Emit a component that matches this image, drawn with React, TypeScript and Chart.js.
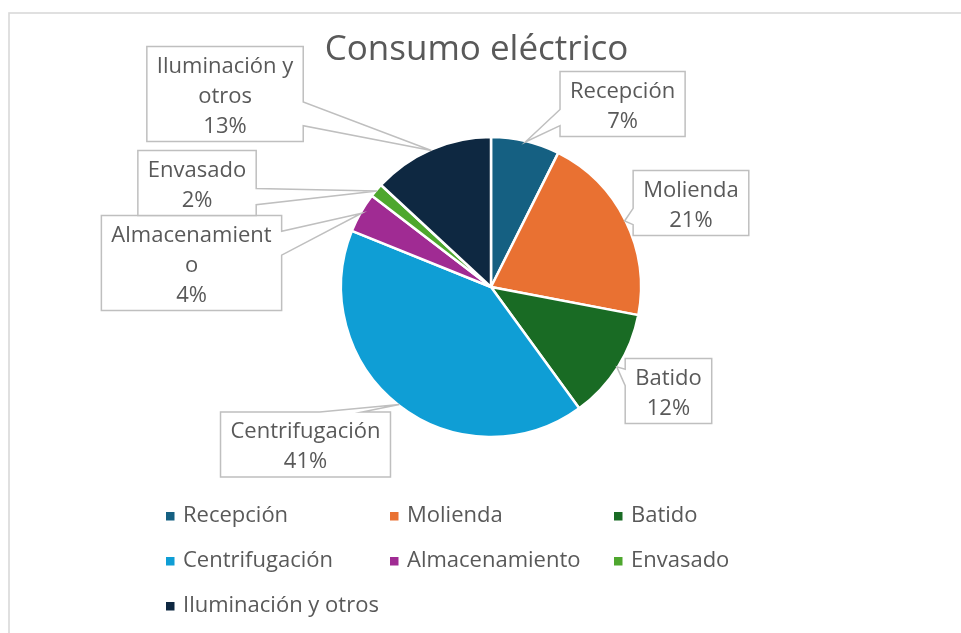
import React, { useEffect, useRef } from "react";
import { Chart, registerables } from "chart.js";

Chart.register(...registerables);

const chartTitle = "Consumo eléctrico";
const categories = [
  "Recepción",
  "Molienda",
  "Batido",
  "Centrifugación",
  "Almacenamiento",
  "Envasado",
  "Iluminación y otros",
];
const consumptionShare = [7.4, 20.6, 12.0, 41.1, 4.3, 1.5, 13.1];
const sliceColors = ["#156082", "#E97132", "#196B24", "#0F9ED5", "#A02B93", "#4EA72E", "#0E2841"];
const dataLabelLines = [
  ["Recepción"],
  ["Molienda"],
  ["Batido"],
  ["Centrifugación"],
  ["Almacenamient", "o"],
  ["Envasado"],
  ["Iluminación y", "otros"],
];
// label box centres relative to the pie centre, in pie radii
const labelOffsets = [
  [0.883, -1.228],
  [1.342, -0.564],
  [1.191, 0.698],
  [-1.245, 1.057],
  [-2.01, -0.161],
  [-1.973, -0.698],
  [-1.785, -1.295],
];

const FONT = '"Open Sans", "Noto Sans", sans-serif';
const TEXT = "#595959";
const LABEL_PX = 22;
const LINE_H = 30;
const R0 = 149;

const decorPlugin = {
  id: "decor",
  beforeDraw(chart: any) {
    const ctx = chart.ctx;
    ctx.save();
    ctx.fillStyle = "#ffffff";
    ctx.fillRect(0, 0, chart.width, chart.height);
    ctx.strokeStyle = "#D9D9D9";
    ctx.lineWidth = 1.6;
    ctx.strokeRect(9, 13, chart.width + 20, chart.height + 20);
    ctx.fillStyle = TEXT;
    ctx.font = `35px ${FONT}`;
    ctx.textAlign = "center";
    ctx.textBaseline = "alphabetic";
    ctx.fillText(chartTitle, 476.5, 60);
    ctx.restore();
  },
  afterDatasetsDraw(chart: any) {
    const ctx = chart.ctx;
    const meta = chart.getDatasetMeta(0);
    const values = chart.data.datasets[0].data as number[];
    const total = values.reduce((a, b) => a + b, 0);
    ctx.save();
    ctx.font = `${LABEL_PX}px ${FONT}`;
    meta.data.forEach((arc: any, i: number) => {
      const p = arc.getProps(["x", "y", "startAngle", "endAngle", "outerRadius"], true);
      const mid = (p.startAngle + p.endAngle) / 2;
      const R = R0;
      const tx = p.x + Math.cos(mid) * R;
      const ty = p.y + Math.sin(mid) * R;
      const lines = [...dataLabelLines[i], `${Math.round((values[i] / total) * 100)}%`];
      const tw = Math.max(...lines.map((l) => ctx.measureText(l).width));
      const w = tw + 20;
      const h = lines.length * LINE_H + 5;
      const cx = p.x + labelOffsets[i][0] * R;
      const cy = p.y + labelOffsets[i][1] * R;
      const l = cx - w / 2, r = cx + w / 2, t = cy - h / 2, b = cy + h / 2;
      const dx = tx - cx, dy = ty - cy;
      ctx.beginPath();
      if (Math.abs(dx) / w > Math.abs(dy) / h) {
        const yb1 = dy < 0 ? t + (h * 2) / 12 : t + (h * 7) / 12;
        const yb2 = dy < 0 ? t + (h * 5) / 12 : t + (h * 10) / 12;
        if (dx > 0) {
          ctx.moveTo(l, t); ctx.lineTo(r, t); ctx.lineTo(r, yb1); ctx.lineTo(tx, ty);
          ctx.lineTo(r, yb2); ctx.lineTo(r, b); ctx.lineTo(l, b);
        } else {
          ctx.moveTo(l, t); ctx.lineTo(r, t); ctx.lineTo(r, b); ctx.lineTo(l, b);
          ctx.lineTo(l, yb2); ctx.lineTo(tx, ty); ctx.lineTo(l, yb1);
        }
      } else {
        const xb1 = dx < 0 ? l + (w * 2) / 12 : l + (w * 7) / 12;
        const xb2 = dx < 0 ? l + (w * 5) / 12 : l + (w * 10) / 12;
        if (dy < 0) {
          ctx.moveTo(l, t); ctx.lineTo(xb1, t); ctx.lineTo(tx, ty); ctx.lineTo(xb2, t);
          ctx.lineTo(r, t); ctx.lineTo(r, b); ctx.lineTo(l, b);
        } else {
          ctx.moveTo(l, t); ctx.lineTo(r, t); ctx.lineTo(r, b); ctx.lineTo(xb2, b);
          ctx.lineTo(tx, ty); ctx.lineTo(xb1, b); ctx.lineTo(l, b);
        }
      }
      ctx.closePath();
      ctx.fillStyle = "#ffffff";
      ctx.fill();
      ctx.strokeStyle = "#BFBFBF";
      ctx.lineWidth = 1.5;
      ctx.lineJoin = "miter";
      ctx.stroke();
      ctx.fillStyle = TEXT;
      ctx.textAlign = "center";
      ctx.textBaseline = "middle";
      lines.forEach((line, k) => {
        ctx.fillText(line, cx, t + 5 + LINE_H / 2 + k * LINE_H);
      });
    });
    ctx.restore();
  },
  afterDraw(chart: any) {
    const ctx = chart.ctx;
    const colX = [166, 390, 614];
    const rowY = [522, 567, 612];
    ctx.save();
    ctx.font = `${LABEL_PX}px ${FONT}`;
    ctx.textAlign = "left";
    ctx.textBaseline = "alphabetic";
    categories.forEach((name, i) => {
      const x = colX[i % 3];
      const y = rowY[Math.floor(i / 3)];
      ctx.fillStyle = sliceColors[i];
      ctx.fillRect(x, y - 10, 8.5, 8.5);
      ctx.fillStyle = TEXT;
      ctx.fillText(name, x + 17, y);
    });
    ctx.restore();
  },
};

export default function App() {
  const ref = useRef<HTMLCanvasElement | null>(null);
  useEffect(() => {
    if (!ref.current) return;
    const chart = new Chart(ref.current, {
      type: "pie",
      data: {
        labels: categories,
        datasets: [
          {
            data: consumptionShare,
            backgroundColor: sliceColors,
            borderColor: "#ffffff",
            borderWidth: 2.5,
            radius: 150,
          } as any,
        ],
      },
      options: {
        responsive: false,
        animation: false,
        layout: { padding: { left: 121, right: 100, top: 100, bottom: 159 } },
        plugins: {
          legend: { display: false },
          title: { display: false },
          tooltip: { enabled: false },
        },
      },
      plugins: [decorPlugin],
    });
    return () => chart.destroy();
  }, []);
  return (
    <div style={{ position: "fixed", left: 0, top: 0, width: 961, height: 633, background: "#fff" }}>
      <canvas ref={ref} width={961} height={633} style={{ width: 961, height: 633, display: "block" }} />
    </div>
  );
}
